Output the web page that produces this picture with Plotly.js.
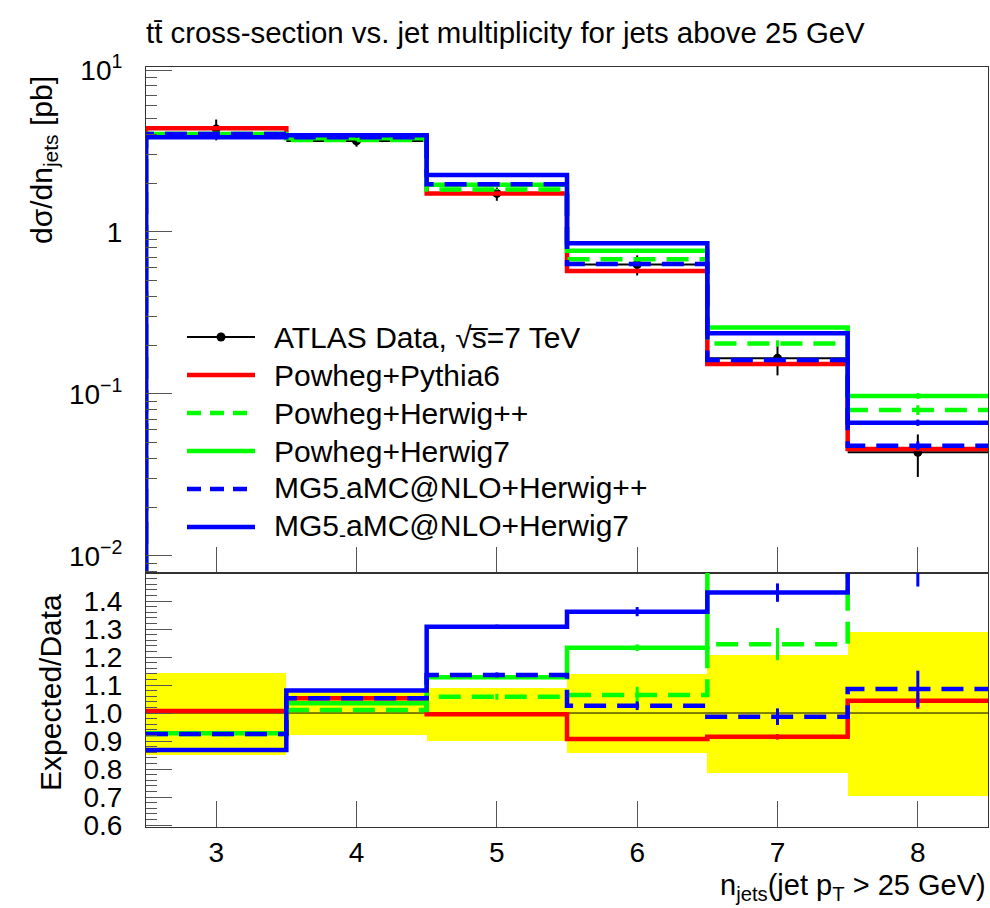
<!DOCTYPE html>
<html>
<head>
<meta charset="utf-8">
<script src="https://cdn.plot.ly/plotly-3.0.1.min.js"></script>
<style>html,body{margin:0;padding:0;background:#fff;}#chart{width:990px;height:908px;}</style>
</head>
<body>
<div id="chart"></div>
<script>
// ---------------- data ----------------
const binEdges = [2.5, 3.5, 4.5, 5.5, 6.5, 7.5, 8.5];
const nJets = [3, 4, 5, 6, 7, 8];
const tickLabelsX = ['3', '4', '5', '6', '7', '8'];

// ATLAS data, dsigma/dn_jets [pb]
const dataXsec = [4.33, 3.65, 1.73, 0.63, 0.166, 0.0437];
// data uncertainty band in the ratio panel
const bandLow  = [0.850, 0.921, 0.901, 0.856, 0.785, 0.704];
const bandHigh = [1.142, 1.075, 1.088, 1.139, 1.207, 1.288];

// predictions, top panel [pb]
const powhegPythia6   = [4.37, 3.85, 1.73, 0.574, 0.153, 0.0457];
const powhegHerwigpp  = [4.03, 3.70, 1.83, 0.678, 0.205, 0.0797];
const powhegHerwig7   = [4.03, 3.79, 1.96, 0.767, 0.257, 0.0972];
const mg5Herwigpp     = [4.03, 3.85, 1.97, 0.634, 0.162, 0.0480];
const mg5Herwig7      = [3.85, 3.95, 2.25, 0.851, 0.237, 0.0665];

// predictions, Expected/Data panel
const powhegPythia6R  = [1.007, 1.053, 0.996, 0.907, 0.915, 1.044];
const powhegHerwigppR = [0.925, 1.011, 1.058, 1.064, 1.246, 1.82];
const powhegHerwig7R  = [0.928, 1.035, 1.128, 1.233, 1.55, 2.20];
const mg5HerwigppR    = [0.925, 1.053, 1.136, 1.026, 0.987, 1.086];
const mg5Herwig7R     = [0.868, 1.080, 1.308, 1.362, 1.430, 1.520];

// relative MC statistical uncertainties
const powhegPythia6Err  = [0.003, 0.003, 0.004, 0.006, 0.011, 0.028];
const powhegHerwigppErr = [0.005, 0.006, 0.010, 0.028, 0.046, 0.070];
const powhegHerwig7Err  = [0.003, 0.004, 0.006, 0.010, 0.020, 0.040];
const mg5HerwigppErr    = [0.004, 0.005, 0.008, 0.015, 0.030, 0.060];
const mg5Herwig7Err     = [0.003, 0.004, 0.006, 0.012, 0.023, 0.045];

const seriesNames = ['Powheg+Pythia6', 'Powheg+Herwig++', 'Powheg+Herwig7',
                     'MG5<sub>-</sub>aMC@NLO+Herwig++', 'MG5<sub>-</sub>aMC@NLO+Herwig7'];
const dataName = 'ATLAS Data, √s̅=7 TeV';

// ---------------- styling ----------------
const RED = '#ff0000', GREEN = '#00ff00', BLUE = '#0000ff';
const DASH = '22px,11px';
const series = [
  {name: seriesNames[0], top: powhegPythia6,  ratio: powhegPythia6R,  err: powhegPythia6Err,  color: RED,   dash: 'solid'},
  {name: seriesNames[1], top: powhegHerwigpp, ratio: powhegHerwigppR, err: powhegHerwigppErr, color: GREEN, dash: DASH},
  {name: seriesNames[2], top: powhegHerwig7,  ratio: powhegHerwig7R,  err: powhegHerwig7Err,  color: GREEN, dash: 'solid'},
  {name: seriesNames[3], top: mg5Herwigpp,    ratio: mg5HerwigppR,    err: mg5HerwigppErr,    color: BLUE,  dash: DASH},
  {name: seriesNames[4], top: mg5Herwig7,     ratio: mg5Herwig7R,     err: mg5Herwig7Err,     color: BLUE,  dash: 'solid'}
];

const LW = 4.5;
const FONT = 'Liberation Sans, Arial, Helvetica, sans-serif';
const binWidth = nJets.map((_, i) => binEdges[i + 1] - binEdges[i]);
const last = a => a[a.length - 1];

const traces = [];

// yellow data-uncertainty band (ratio panel)
traces.push({
  type: 'bar', x: nJets, base: bandLow, y: bandHigh.map((h, i) => h - bandLow[i]),
  width: binWidth, marker: {color: '#ffff00', line: {width: 0}},
  xaxis: 'x2', yaxis: 'y2', hoverinfo: 'skip', showlegend: false
});
// unity line
traces.push({
  type: 'scatter', mode: 'lines', x: [binEdges[0], last(binEdges)], y: [1, 1],
  line: {color: '#000', width: 1}, xaxis: 'x2', yaxis: 'y2', hoverinfo: 'skip', showlegend: false
});

// data points
traces.push({
  type: 'scatter', mode: 'markers', name: dataName, x: nJets, y: dataXsec,
  marker: {color: '#000', size: 9, symbol: 'circle'},
  error_y: {type: 'data', symmetric: false,
            array: dataXsec.map((v, i) => v * (bandHigh[i] - 1)),
            arrayminus: dataXsec.map((v, i) => v * (1 - bandLow[i])),
            color: '#000', thickness: 2, width: 0},
  error_x: {type: 'data', array: binWidth.map(w => w / 2), color: '#000', thickness: 2, width: 0},
  xaxis: 'x', yaxis: 'y', showlegend: false
});

series.forEach(s => {
  // top panel histogram (starting from below the axis at the left edge)
  traces.push({
    type: 'scatter', mode: 'lines', name: s.name,
    x: [binEdges[0]].concat(binEdges),
    y: [1e-6].concat(s.top, [last(s.top)]),
    line: {shape: 'hv', color: s.color, width: LW, dash: s.dash},
    xaxis: 'x', yaxis: 'y', showlegend: false
  });
  traces.push({
    type: 'scatter', mode: 'markers', x: nJets, y: s.top,
    marker: {color: s.color, size: 1},
    error_y: {type: 'data', array: s.top.map((v, i) => v * s.err[i]), color: s.color, thickness: 3, width: 0},
    xaxis: 'x', yaxis: 'y', showlegend: false, hoverinfo: 'skip'
  });
  // ratio panel histogram
  traces.push({
    type: 'scatter', mode: 'lines', name: s.name,
    x: binEdges, y: s.ratio.concat([last(s.ratio)]),
    line: {shape: 'hv', color: s.color, width: LW, dash: s.dash},
    xaxis: 'x2', yaxis: 'y2', showlegend: false
  });
  traces.push({
    type: 'scatter', mode: 'markers', x: nJets, y: s.ratio,
    marker: {color: s.color, size: 1},
    error_y: {type: 'data', array: s.ratio.map((v, i) => v * s.err[i]), color: s.color, thickness: 3, width: 0},
    xaxis: 'x2', yaxis: 'y2', showlegend: false, hoverinfo: 'skip'
  });
});

// ---------------- geometry ----------------
const W = 990, H = 908;
const ML = 146, MR = 2, MT = 67, MB = 81;
const PW = W - ML - MR, PH = H - MT - MB;
const splitPx = 573;
const split = (H - MB - splitPx) / PH;
const px2x = px => (px - ML) / PW;
const py2y = py => (H - MB - py) / PH;

// minor ticks
const minorTop = [];
[0.001, 0.01, 0.1, 1].forEach(d => { for (let k = 2; k <= 9; k++) minorTop.push(k * d); });
const minorRatio = [];
for (let v = 0.58; v <= 1.5; v += 0.02) minorRatio.push(+v.toFixed(2));
const majorRatio = [0.6, 0.7, 0.8, 0.9, 1.0, 1.1, 1.2, 1.3, 1.4];

const TICKC = '#555';
const axisCommon = {
  showline: true, mirror: true, linecolor: '#333', linewidth: 1,
  showgrid: false, zeroline: false, ticks: 'inside', tickcolor: TICKC, tickwidth: 1,
  tickfont: {family: FONT, size: 28, color: '#000'}
};

// legend drawn with shapes + annotations
const legendY = [337, 375, 413, 451, 489, 527];
const legX0 = 187, legX1 = 255, legTextX = 272;
const LEGFONT = 30;
const shapes = [];
const annotations = [];
const legendEntries = [{name: dataName, color: '#000', dash: 'solid', width: 2}]
  .concat(series.map(s => ({name: s.name, color: s.color, dash: s.dash === 'solid' ? 'solid' : '14px,9px', width: LW})));
legendEntries.forEach((e, i) => {
  shapes.push({type: 'line', xref: 'paper', yref: 'paper',
    x0: px2x(legX0), x1: px2x(legX1), y0: py2y(legendY[i]), y1: py2y(legendY[i]),
    line: {color: e.color, width: e.width, dash: e.dash}});
  annotations.push({xref: 'paper', yref: 'paper', x: px2x(legTextX), y: py2y(legendY[i]),
    xanchor: 'left', yanchor: 'middle', showarrow: false, text: e.name,
    font: {family: FONT, size: LEGFONT, color: '#000'}});
});
// data marker in the legend
const cx = (legX0 + legX1) / 2, r = 4.5;
shapes.push({type: 'circle', xref: 'paper', yref: 'paper',
  x0: px2x(cx - r), x1: px2x(cx + r), y0: py2y(legendY[0] + r), y1: py2y(legendY[0] - r),
  fillcolor: '#000', line: {color: '#000', width: 0}});

// axis titles
annotations.push({xref: 'paper', yref: 'paper', x: px2x(43), y: py2y(160), textangle: -90,
  xanchor: 'center', yanchor: 'middle', showarrow: false,
  text: 'dσ/dn<sub>jets</sub> [pb]', font: {family: FONT, size: 30, color: '#000'}});
annotations.push({xref: 'paper', yref: 'paper', x: px2x(50), y: py2y(693), textangle: -90,
  xanchor: 'center', yanchor: 'middle', showarrow: false,
  text: 'Expected/Data', font: {family: FONT, size: 30, color: '#000'}});
annotations.push({xref: 'paper', yref: 'paper', x: 1, y: py2y(887),
  xanchor: 'right', yanchor: 'middle', showarrow: false,
  text: 'n<sub>jets</sub>(jet p<sub>T</sub> &gt; 25 GeV)', font: {family: FONT, size: 29, color: '#000'}});

const layout = {
  width: W, height: H,
  margin: {l: ML, r: MR, t: MT, b: MB, pad: 0},
  paper_bgcolor: '#fff', plot_bgcolor: '#fff',
  showlegend: false, bargap: 0,
  font: {family: FONT, size: 28, color: '#000'},
  title: {text: 'tt̄ cross-section vs. jet multiplicity for jets above 25 GeV',
          font: {family: FONT, size: 29.4, color: '#000'},
          xref: 'paper', x: 0, xanchor: 'left', yref: 'container', y: 1 - 33 / H, yanchor: 'middle'},
  xaxis: Object.assign({}, axisCommon, {
    domain: [0, 1], anchor: 'y', range: [binEdges[0], last(binEdges)],
    tickvals: nJets, showticklabels: false, ticklen: 26
  }),
  xaxis2: Object.assign({}, axisCommon, {
    domain: [0, 1], anchor: 'y2', matches: 'x', range: [binEdges[0], last(binEdges)],
    tickvals: nJets, ticktext: tickLabelsX, ticklen: 26, ticklabelstandoff: 0
  }),
  yaxis: Object.assign({}, axisCommon, {
    domain: [split, 1], anchor: 'x', type: 'log', range: [-2.105, 1.0185],
    tickvals: [0.01, 0.1, 1, 10],
    ticktext: ['10<sup>−2</sup>', '10<sup>−1</sup>', '1', '10<sup>1</sup>'],
    ticklen: 26, ticklabelstandoff: 17,
    minor: {tickmode: 'array', tickvals: minorTop, ticks: 'inside', ticklen: 11, tickcolor: TICKC, tickwidth: 1, showgrid: false}
  }),
  yaxis2: Object.assign({}, axisCommon, {
    domain: [0, split], anchor: 'x2', range: [0.593, 1.5],
    tickvals: majorRatio, ticktext: majorRatio.map(v => v.toFixed(1)),
    ticklen: 26, ticklabelstandoff: 17,
    minor: {tickmode: 'array', tickvals: minorRatio, ticks: 'inside', ticklen: 11, tickcolor: TICKC, tickwidth: 1, showgrid: false}
  }),
  shapes: shapes,
  annotations: annotations
};

Plotly.newPlot('chart', traces, layout, {displayModeBar: false, staticPlot: true});
</script>
</body>
</html>
